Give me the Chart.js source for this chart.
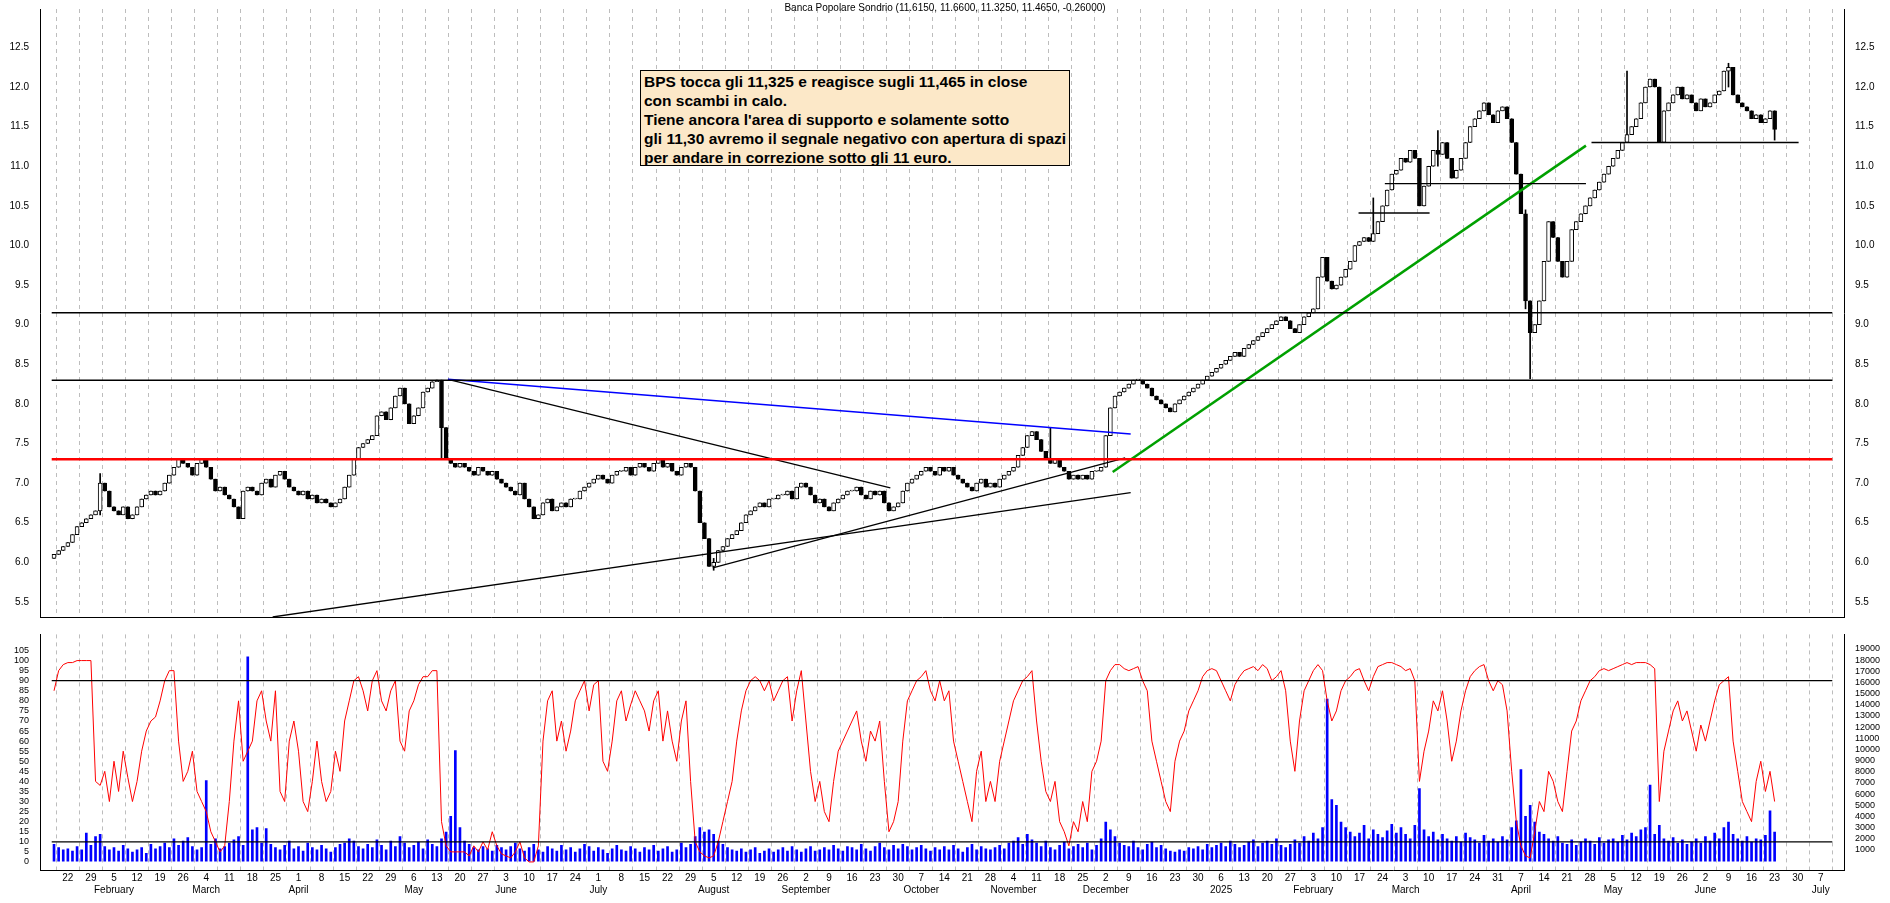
<!DOCTYPE html>
<html><head><meta charset="utf-8">
<script src="https://cdn.jsdelivr.net/npm/chart.js@4.4.1/dist/chart.umd.min.js"></script>
<style>
html,body{margin:0;padding:0;background:#fff;width:1890px;height:903px;overflow:hidden;font-family:"Liberation Sans",Arial,sans-serif}
#c1{position:absolute;left:0;top:0}
#c2{position:absolute;left:0;top:626px}
#title{position:absolute;top:2px;left:0;width:1890px;text-align:center;font-size:10px;color:#000}
#note{position:absolute;left:640px;top:70px;width:430px;height:96px;background:#fce8c8;border:1.5px solid #000;font-weight:bold;font-size:15.5px;line-height:19px;padding:1px 3px;box-sizing:border-box;white-space:nowrap}
</style></head><body>
<canvas id="c1" width="1890" height="626"></canvas>
<canvas id="c2" width="1890" height="277"></canvas>
<div id="title">Banca Popolare Sondrio (11.6150, 11.6600, 11.3250, 11.4650, -0.26000)</div>
<div id="note">BPS tocca gli 11,325 e reagisce sugli 11,465 in close<br>con scambi in calo.<br>Tiene ancora l'area di supporto e solamente sotto<br>gli 11,30 avremo il segnale negativo con apertura di spazi<br>per andare in correzione sotto gli 11 euro.</div>
<script>
// ---- DATA ----
const startDate = '2024-01-17';
const closes = [6.1,6.15,6.2,
6.25,6.35,6.45,6.5,6.55, 6.6,6.65,7.0,6.9,6.7, 6.65,6.6,6.7,6.55,6.6, 6.7,6.8,6.85,6.9,6.85,
6.9,7.0,7.1,7.2,7.3, 7.25,7.2,7.1,7.25,7.3, 7.2,7.05,6.9,6.95,6.85, 6.8,6.7,6.55,6.9,6.95,
6.9,6.85,7.0,7.05,6.95, 7.1,7.15,7.05,6.95,6.9, 6.85,6.9,6.8,6.85,6.75, 6.8,6.75,6.7,6.75,6.8,
6.95,7.1,7.3,7.45,7.5, 7.55,7.6,7.85,7.9,7.8, 7.95,8.1,8.2,8.0,7.75, 7.85,7.95,8.15,8.2,8.28,
8.3,7.7,7.3,7.25,7.2, 7.25,7.2,7.15,7.1,7.2, 7.15,7.1,7.15,7.05,7.0, 6.95,6.9,6.85,7.0,6.8,
6.7,6.55,6.6,6.75,6.8, 6.65,6.7,6.75,6.7,6.8, 6.8,6.9,6.95,7.0,7.05, 7.1,7.05,7.0,7.1,7.15,
7.15,7.2,7.1,7.2,7.25, 7.2,7.15,7.25,7.3,7.2, 7.25,7.15,7.1,7.2,7.25, 7.2,6.9,6.5,6.3,5.95,
6.0,6.15,6.2,6.3,6.35, 6.4,6.5,6.6,6.65,6.7, 6.75,6.7,6.8,6.8,6.85, 6.85,6.9,6.8,6.95,7.0,
6.95,6.85,6.75,6.8,6.7, 6.65,6.75,6.8,6.85,6.9, 6.9,6.95,6.85,6.8,6.9, 6.85,6.9,6.75,6.65,6.7,
6.75,6.9,7.0,7.05,7.1, 7.15,7.2,7.15,7.1,7.2, 7.15,7.2,7.1,7.05,7.0, 6.95,6.9,7.0,7.05,6.95,
7.0,6.95,7.05,7.1,7.15, 7.2,7.35,7.45,7.6,7.65, 7.55,7.4,7.3,7.25,7.3, 7.2,7.15,7.05,7.1,7.05,
7.1,7.05,7.15,7.15,7.2, 7.6,7.95,8.1,8.15,8.2, 8.25,8.3,8.3,8.25,8.2, 8.1,8.05,8.0,7.95,7.9,
8.0,8.05,8.1,8.15,8.2, 8.25,8.3,8.35,8.4,8.45,
8.5,8.55,8.6,8.65,8.6, 8.7,8.75,8.8,8.85,8.9, 8.95,9.0,9.05,9.1,9.05, 8.95,8.9,9.0,9.1,9.15,
9.2,9.6,9.85,9.55,9.45, 9.5,9.6,9.7,9.8,10.0, 10.05,10.1,10.05,10.15,10.3, 10.5,10.7,10.9,10.95,11.1,
11.05,11.2,11.1,10.5,10.75, 11.0,11.2,11.15,11.3,11.1, 10.85,10.95,11.1,11.3,11.5, 11.6,11.7,11.8,11.65,11.55, 11.7,11.75,11.6,11.3,10.9,
10.4,9.3,8.9,9.0,9.3, 9.8,10.3,10.1,9.8,9.6, 9.8,10.2,10.3,10.4,10.5, 10.6,10.7,10.8,10.9,11.0,
11.1,11.2,11.3,11.4,11.5, 11.6,11.8,12.0,12.1,12.0, 11.3,11.7,11.8,11.9,12.0, 11.85,11.9,11.8,11.7,11.85,
11.75,11.8,11.9,11.95,12.2, 12.25,11.9,11.8,11.75,11.7, 11.6,11.65,11.55,11.6,11.7,
11.465];
const firstOpen = 6.05;
// notable wick extremes [index, low, high]
const wicks = [[143,5.9,6.05],[320,8.32,9.0],[319,9.2,10.45],[84,7.3,8.3],[341,11.95,12.2],[363,12.0,12.3],[373,11.33,11.66],[10,6.6,7.12],[216,7.5,7.7],[300,11.0,11.45],[286,10.4,10.6]];
const stoch = [85,95,98,
99,99,100,100,100, 100,40,38,45,30, 50,35,55,42,30, 40,55,65,70,72, 80,90,95,95,60, 40,45,55,35,30,
25,15,10,5,8, 30,60,80,50,55, 60,80,85,70,60, 85,35,30,60,70, 55,30,25,40,60, 40,30,35,55,45,
70,80,90,92,85, 75,90,95,80,75, 85,90,60,55,75, 80,88,92,92,95, 95,20,8,5,5, 5,5,3,8,5,
10,6,15,8,4, 3,2,5,10,2, 0,0,8,60,80, 85,60,70,55,65, 80,85,90,75,88, 90,50,45,60,80,
85,70,78,85,80, 75,65,80,85,60, 75,60,50,70,80, 40,10,5,3,2, 3,10,20,30,40, 60,75,85,90,92,
90,85,90,80,85, 90,92,70,85,95, 70,45,30,40,25, 20,40,55,60,65, 70,75,60,50,65, 60,70,40,15,20,
30,60,80,85,90, 92,95,85,80,90, 80,85,60,50,40, 30,20,45,55,30, 40,30,50,60,70, 80,85,90,92,95,
70,50,35,30,40, 20,15,8,20,15, 30,20,45,50,60, 90,95,98,98,96, 95,96,97,90,85, 60,50,40,30,25,
50,60,65,75,80, 85,92,95,96,95, 90,85,80,88,92, 95,96,97,95,98, 96,90,92,95,85, 60,45,70,85,90,
95,98,95,80,70, 75,85,90,92,95, 96,90,85,92,97, 98,99,99,98,97, 95,96,90,40,55, 65,80,75,85,70,
50,60,75,85,92, 95,97,98,90,85, 90,88,75,45,20, 8,3,2,15,30, 25,45,40,30,25, 45,65,70,80,85,
90,92,95,96,95, 96,97,98,99,98, 99,99,99,98,96, 30,55,65,75,80, 70,75,65,55,68, 60,70,80,88,90,
92,60,45,30,25, 20,40,50,35,45,
30];
const volume = [1.5,1.2,1.0,
1.1,0.9,1.3,1.0,2.5, 1.4,2.2,2.4,1.3,1.0, 1.2,0.9,1.4,1.1,0.8, 1.0,1.2,0.7,1.5,1.1,
1.3,1.6,1.2,2.0,1.4, 1.8,2.1,1.3,1.0,1.2, 7.2,1.5,2.0,1.1,1.3, 1.6,1.9,2.2,1.4,18.3,
2.8,3.0,1.6,2.9,1.5, 1.2,1.0,1.4,1.8,1.1, 1.3,0.9,1.6,1.2,1.0, 1.4,1.1,0.8,1.2,1.5,
1.6,2.0,1.8,1.3,1.1, 1.5,1.2,1.9,1.4,1.0, 1.8,1.3,2.2,1.6,1.2, 1.4,1.7,1.1,1.9,1.5,
1.3,2.0,2.6,4.0,9.9, 3.0,1.8,1.5,1.2,1.0, 1.3,1.1,0.9,1.4,1.2, 1.0,1.3,1.6,1.1,0.9,
1.2,1.5,1.0,0.8,1.3, 1.1,0.9,1.4,1.0,1.2, 0.8,1.1,1.5,1.3,0.9, 1.2,1.0,0.7,1.1,1.4,
1.0,0.9,1.3,1.1,0.8, 1.2,1.0,1.4,0.9,1.1, 1.3,0.8,1.0,1.6,1.2, 1.5,2.2,3.0,2.6,2.8,
2.4,1.8,1.5,1.2,1.0, 0.9,1.1,0.8,1.0,1.2, 0.7,0.9,1.1,0.8,1.0, 1.2,0.9,1.3,1.0,0.8,
1.1,1.3,0.9,1.0,1.2, 1.0,1.4,1.1,0.9,1.3, 1.2,1.0,1.5,1.1,0.9, 1.3,1.6,1.2,1.0,1.4,
1.1,1.5,1.3,1.0,1.2, 1.4,1.1,0.9,1.2,1.0, 1.3,1.0,1.4,1.1,0.8, 1.2,1.5,1.0,1.3,1.1,
1.0,1.2,1.4,1.1,1.6, 1.8,2.1,1.5,2.4,1.9, 1.6,1.3,1.8,1.2,1.0, 1.4,1.7,1.1,1.3,1.5,
1.2,1.6,1.0,1.4,2.0, 3.5,2.8,2.2,1.6,1.4, 1.3,1.8,1.2,1.0,1.5, 1.7,1.2,1.4,1.1,0.9,
0.8,1.0,0.9,1.2,1.1, 1.3,1.0,1.5,1.2,1.4,
1.6,1.3,1.8,1.5,1.2, 1.4,1.7,1.9,1.3,1.6, 1.8,1.5,2.0,1.4,1.2, 1.5,1.9,1.6,2.2,1.8,
2.5,2.0,3.0,14.5,5.5, 5.0,3.5,3.0,2.6,2.2, 2.5,3.2,2.0,2.8,2.4, 2.1,2.7,3.3,2.5,3.0,
2.4,2.0,3.2,6.5,2.8, 2.2,2.6,1.9,2.4,2.0, 1.8,2.2,1.7,2.5,2.1, 1.9,1.6,2.3,1.8,2.0, 1.7,2.2,1.9,3.0,3.6,
8.2,4.0,5.0,3.5,2.6, 2.4,2.0,1.8,2.2,1.6, 1.5,1.9,1.4,1.7,2.0, 1.8,1.5,2.1,1.6,1.9,
2.0,1.7,2.3,1.9,2.5, 2.2,2.8,3.0,6.8,2.4, 3.2,2.0,1.8,2.1,1.6, 1.9,1.5,1.7,2.0,1.6,
2.2,1.8,2.5,2.0,3.0, 3.5,2.4,2.0,1.8,2.2, 1.7,2.0,1.9,2.3,4.5,
2.6];
const hLines = [9.15, 8.3];
const redLine = 7.3;
const blueLine = [[85.4,8.31],[233.4,7.62]];
const blackLines = [
 [[85.4,8.31],[181.3,6.94]],
 [[142.8,5.93],[232.2,7.32]],
 [[47.4,5.31],[233.4,6.88]],
 [[282.8,10.41],[298.2,10.41]],
 [[288.5,10.78],[332.1,10.78]],
 [[333.3,11.3],[378.2,11.3]]
];
const greenLine = [[229.5,7.14],[332.1,11.26]];
const oscLevels = [90, 10];
const monthNames = ['January','February','March','April','May','June','July','August','September','October','November','December'];

// ---- BUILD ----
const days=[]; {let d=new Date(startDate+'T12:00:00Z'); while(days.length<386){const w=d.getUTCDay(); if(w>0&&w<6) days.push(new Date(d)); d.setUTCDate(d.getUTCDate()+1);} }
const N = closes.length;
const opens = closes.map((c,i)=> i===0?firstOpen:closes[i-1]);
const wickMap={}; wicks.forEach(w=>wickMap[w[0]]=w);
const wickData=[], bodyData=[], bodyFill=[];
for(let i=0;i<N;i++){
  const o=opens[i], c=closes[i];
  let lo=Math.min(o,c), hi=Math.max(o,c);
  if(wickMap[i]){lo=Math.min(lo,wickMap[i][1]);hi=Math.max(hi,wickMap[i][2]);}
  wickData.push({x:i,y:[lo,hi]});
  bodyData.push({x:i,y:[o,c]});
  bodyFill.push(c>=o?'#ffffff':'#000000');
}
const ticks=[]; let lastMonth=0;
days.forEach((d,i)=>{ if(d.getUTCDay()===1){ const m=d.getUTCMonth(); let sub=''; if(m!==lastMonth){ sub = (m===0)? String(d.getUTCFullYear()) : monthNames[m]; lastMonth=m;} ticks.push({value:i,label:[String(d.getUTCDate()),sub]}); }});
const tickMap={}; ticks.forEach(t=>tickMap[t.value]=t.label);
const XMIN=-0.5, XMAX=385.5;
const L=40, R=46;
const fixW = w => (s)=>{s.width=w;};
const lineDS=(pts,color,w)=>({type:'line',data:pts.map(p=>({x:p[0],y:p[1]})),borderColor:color,borderWidth:w,pointRadius:0,fill:false,yAxisID:'y',order:0});
const gridCfg={color:'#bdbdbd',lineWidth:1,drawTicks:false};
const borderCfg={display:true,color:'#000',width:1,dash:[4,4]};

new Chart(document.getElementById('c1'),{
  type:'bar',
  data:{datasets:[
    lineDS([[XMIN,hLines[0]],[XMAX,hLines[0]]],'#000',1.5),
    lineDS([[XMIN,hLines[1]],[XMAX,hLines[1]]],'#000',1.5),
    lineDS([[XMIN,redLine],[XMAX,redLine]],'#ff0000',2.5),
    lineDS(blueLine,'#0000ff',1.5),
    ...blackLines.map(l=>lineDS(l,'#000',1.3)),
    lineDS(greenLine,'#00a000',2.5),
    {type:'bar',data:wickData,backgroundColor:'#000',barThickness:1,grouped:false,yAxisID:'y',order:2},
    {type:'bar',data:bodyData,backgroundColor:bodyFill,borderColor:'#000',borderWidth:1,borderSkipped:false,barThickness:4,minBarLength:1,grouped:false,yAxisID:'y',order:1}
  ]},
  options:{responsive:false,animation:false,events:[],
    layout:{padding:0},
    plugins:{legend:{display:false},tooltip:{enabled:false}},
    scales:{
      x:{type:'linear',min:XMIN,max:XMAX,afterBuildTicks:s=>{s.ticks=ticks.map(t=>({value:t.value}));},
         ticks:{display:false},grid:gridCfg,border:borderCfg,afterFit:s=>{s.height=0;}},
      y:{position:'left',min:5.31,max:12.985,afterFit:fixW(L),
         afterBuildTicks:s=>{const a=[];for(let v=5.5;v<=12.51;v+=0.5)a.push({value:+v.toFixed(1)});s.ticks=a;},
         ticks:{callback:v=>v.toFixed(1),font:{size:10},color:'#000',padding:3},grid:{display:false},border:{color:'#000'}},
      yR:{position:'right',min:5.31,max:12.985,afterFit:fixW(R),
         afterBuildTicks:s=>{const a=[];for(let v=5.5;v<=12.51;v+=0.5)a.push({value:+v.toFixed(1)});s.ticks=a;},
         ticks:{callback:v=>v.toFixed(1),font:{size:10},color:'#000',padding:3},grid:{display:false},border:{color:'#000'}}
    }
  }
});

new Chart(document.getElementById('c2'),{
  type:'bar',
  data:{datasets:[
    {type:'line',data:[{x:XMIN,y:oscLevels[0]},{x:XMAX,y:oscLevels[0]}],borderColor:'#000',borderWidth:1.3,pointRadius:0,yAxisID:'yO',order:0},
    {type:'line',data:[{x:XMIN,y:oscLevels[1]},{x:XMAX,y:oscLevels[1]}],borderColor:'#000',borderWidth:1.3,pointRadius:0,yAxisID:'yO',order:0},
    {type:'line',data:stoch.map((v,i)=>({x:i,y:v})),borderColor:'#ff0000',borderWidth:1,pointRadius:0,tension:0,yAxisID:'yO',order:1},
    {type:'bar',data:volume.map((v,i)=>({x:i,y:v})),backgroundColor:'#0000ff',barThickness:2,grouped:false,yAxisID:'yV',order:2}
  ]},
  options:{responsive:false,animation:false,events:[],layout:{padding:0},
    plugins:{legend:{display:false},tooltip:{enabled:false}},
    scales:{
      x:{type:'linear',min:XMIN,max:XMAX,afterBuildTicks:s=>{s.ticks=ticks.map(t=>({value:t.value}));},
         ticks:{autoSkip:false,maxRotation:0,font:{size:10},color:'#000',padding:2,callback:v=>tickMap[v]||''},
         grid:gridCfg,border:borderCfg,afterFit:s=>{s.height=33;}},
      yO:{position:'left',min:-4,max:113,afterFit:fixW(L),
         afterBuildTicks:s=>{const a=[];for(let v=0;v<=105;v+=5)a.push({value:v});s.ticks=a;},
         ticks:{font:{size:9},color:'#000',padding:3,autoSkip:false},grid:{display:false},border:{color:'#000'}},
      yV:{position:'right',min:-0.8,max:20.3,afterFit:fixW(R),
         afterBuildTicks:s=>{const a=[];for(let v=1;v<=19;v++)a.push({value:v});s.ticks=a;},
         ticks:{font:{size:9},color:'#000',padding:3,autoSkip:false,callback:v=>String(v*1000)},grid:{display:false},border:{color:'#000'}}
    }
  }
});
</script>
</body></html>
